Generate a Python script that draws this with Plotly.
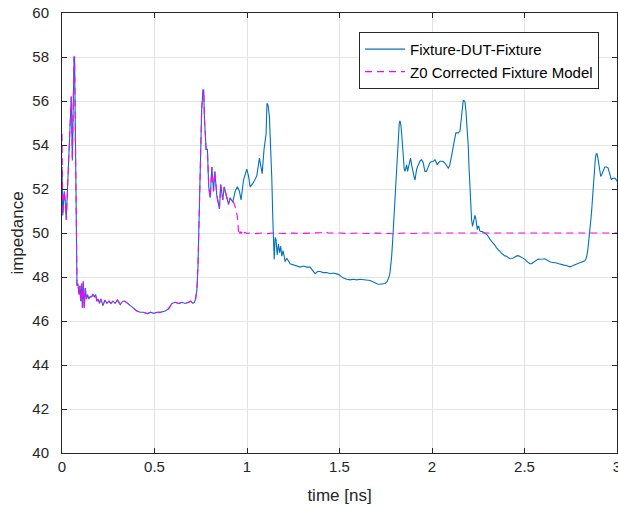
import plotly.graph_objects as go

# ---- data ----
t_fdf = [0.000, 0.004, 0.012, 0.017, 0.023, 0.030, 0.038, 0.045, 0.050, 0.056, 0.060, 0.065, 0.068, 0.072, 0.075,
         0.081, 0.086, 0.092, 0.097, 0.101, 0.106, 0.110, 0.115, 0.120, 0.126, 0.132, 0.138, 0.145, 0.152, 0.160,
         0.167, 0.175, 0.182, 0.188, 0.195, 0.202, 0.210, 0.221, 0.232, 0.243, 0.254, 0.264, 0.275, 0.287, 0.300,
         0.315, 0.328, 0.340, 0.355, 0.369, 0.387, 0.405, 0.423, 0.440, 0.463, 0.478, 0.495, 0.515, 0.533, 0.558,
         0.576, 0.594, 0.612, 0.630, 0.648, 0.666, 0.684, 0.696, 0.708, 0.716, 0.722, 0.729, 0.735, 0.741, 0.748,
         0.755, 0.762, 0.766, 0.770, 0.775, 0.779, 0.786, 0.793, 0.801, 0.810, 0.819, 0.826, 0.837, 0.851, 0.858,
         0.869, 0.877, 0.887, 0.900, 0.909,
         0.923, 0.936, 0.948, 0.959, 0.968, 0.981, 0.999, 1.008, 1.017, 1.035, 1.053, 1.067, 1.082, 1.092, 1.103,
         1.108, 1.114, 1.121, 1.128, 1.134, 1.140, 1.147, 1.152, 1.157, 1.163, 1.170, 1.176, 1.182, 1.188, 1.195,
         1.206, 1.215, 1.233, 1.251, 1.269, 1.287, 1.305, 1.323, 1.341, 1.355, 1.368, 1.382, 1.395, 1.413, 1.431,
         1.450, 1.467, 1.494, 1.510, 1.521, 1.540, 1.557, 1.575, 1.593, 1.611, 1.629, 1.647, 1.665, 1.680, 1.692,
         1.705, 1.719, 1.733, 1.746, 1.758, 1.764, 1.769, 1.773, 1.778, 1.782, 1.787, 1.791, 1.798, 1.805, 1.812,
         1.818, 1.823, 1.827, 1.832, 1.836, 1.840, 1.845, 1.850, 1.854, 1.859, 1.863, 1.868, 1.872, 1.877, 1.884,
         1.890, 1.895, 1.902, 1.908, 1.913, 1.917, 1.923, 1.929, 1.937, 1.944, 1.953, 1.958, 1.962, 1.970, 1.978,
         1.989, 2.000, 2.007, 2.016, 2.022, 2.029, 2.036, 2.043, 2.052, 2.061, 2.070, 2.080, 2.088, 2.095, 2.101,
         2.108, 2.115, 2.122, 2.129, 2.135, 2.142, 2.151, 2.155, 2.160, 2.165, 2.169, 2.175, 2.178, 2.183, 2.187,
         2.192, 2.196, 2.200, 2.205, 2.210, 2.214, 2.219, 2.224, 2.228, 2.232, 2.236, 2.240, 2.245, 2.249, 2.253,
         2.258, 2.262, 2.270, 2.277, 2.286, 2.298, 2.305, 2.313, 2.322, 2.331, 2.340, 2.349, 2.358, 2.367, 2.376,
         2.385, 2.394, 2.403, 2.412, 2.421, 2.430, 2.439, 2.450, 2.461, 2.472, 2.484, 2.493, 2.502, 2.511, 2.520,
         2.529, 2.538, 2.547, 2.556, 2.565, 2.574, 2.583, 2.592, 2.601, 2.610, 2.619, 2.628, 2.637, 2.646, 2.660,
         2.673, 2.686, 2.700, 2.714, 2.727, 2.736, 2.745, 2.754, 2.763, 2.772, 2.781, 2.795, 2.808, 2.817, 2.826,
         2.832, 2.838, 2.843, 2.849, 2.855, 2.862, 2.868, 2.874, 2.879, 2.883, 2.888, 2.892, 2.897, 2.901, 2.906,
         2.912, 2.917, 2.921, 2.928, 2.934, 2.943, 2.952, 2.957, 2.961, 2.966, 2.970, 2.975, 2.979, 2.986, 2.992,
         3.000]
z_fdf = [53.0, 50.8, 51.9, 51.5, 50.6, 51.9, 53.8, 55.4, 56.2, 53.3, 56.0, 58.0, 58.0, 54.2, 49.7,
         47.6, 47.7, 47.2, 47.6, 46.9, 47.7, 46.6, 47.8, 46.6, 47.5, 47.0, 47.2, 47.0, 47.1, 47.1,
         47.2, 47.1, 47.2, 46.9, 47.0, 46.8, 47.0, 46.7, 46.95, 46.8, 46.9, 46.8, 46.9, 46.8, 46.95,
         46.75, 46.9, 46.9, 46.8, 46.7, 46.55, 46.45, 46.4, 46.4, 46.33, 46.4, 46.35, 46.4, 46.4, 46.45,
         46.55, 46.8, 46.85, 46.8, 46.85, 46.8, 46.85, 46.9, 46.8, 46.85, 47.0, 47.4, 48.5, 51.0, 53.0,
         55.6, 56.5, 56.5, 55.2, 53.8, 53.8, 53.8, 52.1, 51.6, 53.0, 51.9, 52.8, 51.7, 51.1, 52.2,
         51.5, 52.1, 51.8, 51.3, 51.6,
         51.4, 51.9, 52.1, 51.9, 51.5, 52.4, 52.9, 52.6, 52.1, 52.3, 52.6, 53.4, 52.7, 53.8, 54.5,
         55.9, 55.8, 55.3, 54.0, 52.5, 50.5, 48.8, 49.8, 49.7, 49.0, 49.5, 49.1, 49.4, 48.95, 49.2,
         48.7, 48.85, 48.6, 48.55, 48.5, 48.45, 48.5, 48.45, 48.45, 48.3, 48.15, 48.25, 48.25, 48.2, 48.2,
         48.15, 48.18, 48.12, 48.0, 47.95, 47.9, 47.87, 47.9, 47.87, 47.9, 47.88, 47.85, 47.84, 47.78, 47.72,
         47.68, 47.67, 47.68, 47.7, 47.8, 47.9, 48.05, 48.2, 48.5, 48.95, 49.6, 50.2, 51.5, 52.7, 53.8,
         54.6, 55.0, 55.1, 54.9, 54.5, 54.0, 53.5, 52.9, 52.8, 53.0, 53.1, 52.8, 53.0, 53.25, 53.4,
         53.1, 52.8, 52.6, 52.4, 52.7, 52.9, 53.05, 53.2, 53.3, 53.33, 53.18, 52.95, 52.8, 52.8, 53.0,
         53.2, 53.25, 53.26, 53.33, 53.2, 53.1, 53.2, 53.26, 53.26, 53.25, 53.18, 53.05, 52.95, 53.05, 53.26,
         53.6, 53.94, 54.3, 54.55, 54.55, 54.55, 54.62, 54.9, 55.3, 55.8, 56.03, 56.0, 55.95, 55.6, 55.15,
         54.6, 53.94, 53.0, 51.97, 51.1, 50.6, 50.3, 50.45, 50.6, 50.8, 50.7, 50.3, 50.15, 50.3, 50.3,
         50.1, 50.07, 50.07, 50.05, 50.0, 49.92, 49.8, 49.72, 49.62, 49.54, 49.45, 49.32, 49.22, 49.17, 49.08,
         49.0, 48.96, 48.94, 48.88, 48.83, 48.84, 48.86, 48.92, 48.97, 48.95, 48.9, 48.86, 48.8, 48.72, 48.64,
         48.6, 48.6, 48.66, 48.74, 48.8, 48.82, 48.81, 48.8, 48.82, 48.83, 48.78, 48.71, 48.69, 48.67, 48.66,
         48.64, 48.6, 48.56, 48.54, 48.52, 48.49, 48.46, 48.49, 48.53, 48.57, 48.6, 48.64, 48.67, 48.7, 48.74,
         48.82, 49.0, 49.3, 49.7, 50.3, 50.9, 51.7, 52.4, 53.0, 53.41, 53.6, 53.6, 53.4, 53.18, 52.85,
         52.57, 52.65, 52.73, 52.9, 53.0, 53.0, 52.95, 52.8, 52.65, 52.5, 52.42, 52.48, 52.5, 52.5, 52.47,
         52.35]

t_model = [0.000, 0.004, 0.012, 0.017, 0.023, 0.030, 0.038, 0.045, 0.050, 0.056, 0.060, 0.065, 0.068, 0.072, 0.075,
           0.081, 0.086, 0.092, 0.097, 0.101, 0.106, 0.110, 0.115, 0.120, 0.126, 0.132, 0.138, 0.145, 0.152, 0.160,
           0.167, 0.175, 0.182, 0.188, 0.195, 0.202, 0.210, 0.221, 0.232, 0.243, 0.254, 0.264, 0.275, 0.287, 0.300,
           0.315, 0.328, 0.340, 0.355, 0.369, 0.387, 0.405, 0.423, 0.440, 0.463, 0.478, 0.495, 0.515, 0.533, 0.558,
           0.576, 0.594, 0.612, 0.630, 0.648, 0.666, 0.684, 0.696, 0.708, 0.716, 0.722, 0.729, 0.735, 0.741, 0.748,
           0.755, 0.762, 0.766, 0.770, 0.775, 0.779, 0.786, 0.793, 0.801, 0.810, 0.819, 0.826, 0.837, 0.851, 0.858,
           0.869, 0.877, 0.887, 0.900, 0.909,
           0.923, 0.936, 0.942, 0.948, 0.952, 0.956, 0.960, 0.963, 0.968, 0.972, 0.977, 0.981, 0.986, 0.990, 0.999,
           1.02, 1.05, 1.08, 1.11, 1.15, 1.20, 1.25, 1.30, 1.35, 1.40, 1.42, 1.44, 1.50, 1.55, 1.60,
           1.65, 1.70, 1.75, 1.80, 1.85, 1.90, 1.95, 2.00, 2.10, 2.20, 2.30, 2.40, 2.50, 2.60, 2.70,
           2.80, 2.90, 3.00]
z_model = [54.5, 50.8, 51.9, 51.5, 50.6, 51.9, 53.8, 55.4, 56.2, 53.3, 56.0, 58.0, 58.0, 54.2, 49.7,
           47.6, 47.7, 47.2, 47.6, 46.9, 47.7, 46.6, 47.8, 46.6, 47.5, 47.0, 47.2, 47.0, 47.1, 47.1,
           47.2, 47.1, 47.2, 46.9, 47.0, 46.8, 47.0, 46.7, 46.95, 46.8, 46.9, 46.8, 46.9, 46.8, 46.95,
           46.75, 46.9, 46.9, 46.8, 46.7, 46.55, 46.45, 46.4, 46.4, 46.33, 46.4, 46.35, 46.4, 46.4, 46.45,
           46.55, 46.8, 46.85, 46.8, 46.85, 46.8, 46.85, 46.9, 46.8, 46.85, 47.0, 47.4, 48.5, 51.0, 53.0,
           55.6, 56.5, 56.5, 55.2, 53.8, 53.8, 53.8, 52.1, 51.6, 53.0, 51.9, 52.8, 51.7, 51.1, 52.2,
           51.5, 52.1, 51.8, 51.3, 51.6,
           51.5, 51.2, 51.0, 50.75, 50.3, 49.9, 50.0, 50.07, 49.98, 50.05, 49.96, 50.07, 50.0, 50.03, 49.98,
           50.0, 49.97, 50.0, 49.97, 50.0, 49.98, 50.0, 49.98, 50.0, 50.02, 50.07, 50.0, 50.0, 49.97, 50.0,
           49.98, 50.0, 49.98, 49.96, 50.0, 49.98, 50.0, 50.0, 49.99, 50.0, 49.99, 50.0, 50.01, 50.0, 50.0,
           50.0, 50.0, 50.0]

x_ticks = [0, 0.5, 1, 1.5, 2, 2.5, 3]
x_tick_labels = ["0", "0.5", "1", "1.5", "2", "2.5", "3"]
y_ticks = [40, 42, 44, 46, 48, 50, 52, 54, 56, 58, 60]

FONT = "Liberation Sans, Arial, Helvetica, sans-serif"
AX = "#262626"
GRID = "#e3e3e3"

fig = go.Figure()
fig.add_trace(go.Scatter(x=t_fdf, y=z_fdf, mode="lines", name="Fixture-DUT-Fixture",
                         line=dict(color="#0072BD", width=1.1)))
fig.add_trace(go.Scatter(x=t_model, y=z_model, mode="lines", name="Z0 Corrected Fixture Model",
                         line=dict(color="#FF00FF", width=1.1, dash="7px,5px")))

axis_common = dict(showline=True, linecolor=AX, linewidth=1, mirror="ticks",
                   ticks="inside", ticklen=5, tickcolor=AX, tickwidth=1,
                   showgrid=True, gridcolor=GRID, gridwidth=1, zeroline=False,
                   automargin=False, ticklabeloverflow="allow",
                   tickfont=dict(family=FONT, size=15, color=AX))

fig.update_xaxes(range=[0, 3], tickvals=x_ticks, ticktext=x_tick_labels,
                 title=dict(text="time [ns]", font=dict(family=FONT, size=17, color=AX), standoff=15),
                 **axis_common)
fig.update_yaxes(range=[40, 60], tickvals=y_ticks, ticklabelstandoff=9,
                 title=dict(text="impedance", font=dict(family=FONT, size=17, color=AX), standoff=4),
                 **axis_common)

fig.update_layout(
    width=618, height=506, autosize=False,
    margin=dict(l=62, r=1, t=13, b=53, autoexpand=False),
    paper_bgcolor="white", plot_bgcolor="white",
    font=dict(family=FONT, size=15, color=AX),
    showlegend=True,
    legend=dict(x=0.9676, y=0.957, xanchor="right", yanchor="top",
                bgcolor="white", bordercolor=AX, borderwidth=1,
                font=dict(family=FONT, size=15, color="#000000"),
                tracegroupgap=0, itemwidth=40),
)

fig.write_html("out.html", config={"responsive": False, "displayModeBar": False},
               post_script="document.body.style.margin='0';document.body.style.overflow='hidden';")
